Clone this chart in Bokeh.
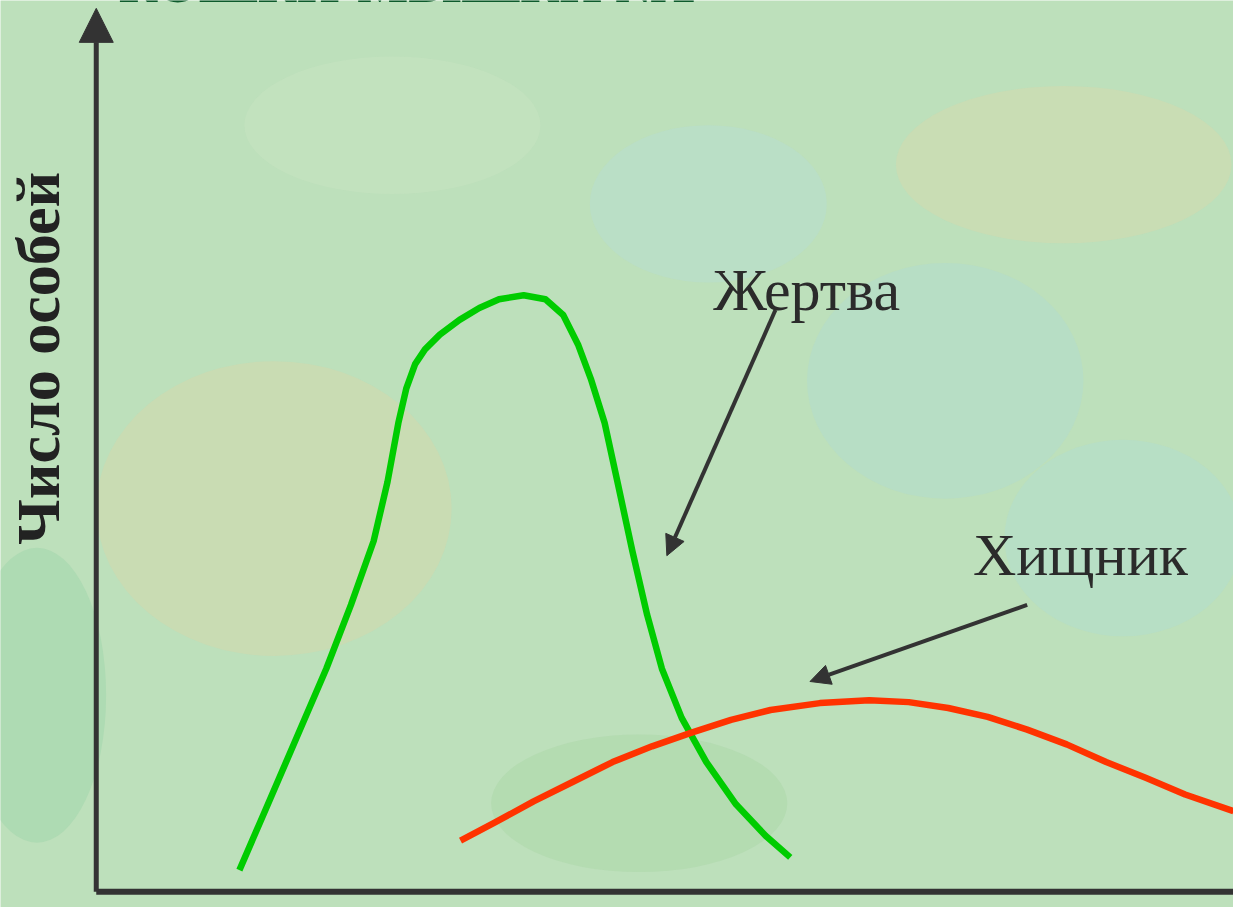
from bokeh.plotting import figure
from bokeh.models import Range1d, Arrow, NormalHead, Label
from bokeh.embed import file_html
from bokeh.resources import INLINE
import math

# ---- data (arbitrary units: time on x, number of individuals on y) ----
prey_t = [1.45, 1.73, 2.03, 2.33, 2.58, 2.81, 2.95, 3.06, 3.14, 3.23, 3.33, 3.48, 3.68,
          3.88, 4.08, 4.33, 4.55, 4.73, 4.88, 5.01, 5.15, 5.28, 5.43, 5.58, 5.73, 5.93,
          6.18, 6.48, 6.78, 7.03]
prey_n = [0.22, 0.87, 1.57, 2.27, 2.92, 3.57, 4.17, 4.77, 5.12, 5.37, 5.52, 5.67, 5.82,
          5.94, 6.03, 6.07, 6.03, 5.87, 5.57, 5.22, 4.77, 4.17, 3.47, 2.82, 2.27, 1.77,
          1.32, 0.89, 0.57, 0.35]
pred_t = [3.69, 4.03, 4.43, 4.83, 5.23, 5.63, 6.03, 6.43, 6.83, 7.33, 7.83, 8.23, 8.63,
          9.03, 9.43, 9.83, 10.23, 10.63, 11.03, 11.52]
pred_n = [0.52, 0.70, 0.92, 1.12, 1.32, 1.48, 1.62, 1.75, 1.85, 1.92, 1.95, 1.93, 1.87,
          1.78, 1.65, 1.50, 1.32, 1.16, 0.99, 0.82]

title_text = "КОШКИ-МЫШКИ №1"
y_label = "Число особей"
prey_label = "Жертва"
pred_label = "Хищник"

FONT = "Liberation Serif"
AX = "#333333"
BG = "#bde0bb"

p = figure(width=1233, height=907, output_backend="svg", toolbar_location=None,
           x_range=Range1d(-0.97, 11.52), y_range=Range1d(-0.16, 9.07),
           min_border=0, background_fill_color=BG, border_fill_color=BG)
p.axis.visible = False
p.grid.visible = False
p.outline_line_color = None

# soft texture-like colour patches of the background
p.ellipse(x=[1.8, 9.8, 8.6, 10.4, -0.6, 5.5, 3.0, 6.2], y=[3.9, 7.4, 5.2, 3.6, 2.0, 0.9, 7.8, 7.0],
          width=[3.6, 3.4, 2.8, 2.4, 1.4, 3.0, 3.0, 2.4], height=[3.0, 1.6, 2.4, 2.0, 3.0, 1.4, 1.4, 1.6],
          fill_color=["#d6d7ac", "#d6d9ae", "#b2dcd0", "#b2ddd0", "#9fd6ab", "#acd8a8", "#c8e4c2", "#b8ddd2"],
          fill_alpha=0.5, line_color=None)

# title (mostly cut off at the top, as in the original slide)
p.add_layout(Label(x=0.23, y=9.24, text=title_text, text_font=FONT,
                   text_font_style="bold", text_font_size="54px", text_color="#0d5a2c",
                   text_baseline="alphabetic"))

# axes with arrow
p.add_layout(Arrow(end=NormalHead(size=34, fill_color=AX, line_color=AX),
                   x_start=0, y_start=0, x_end=0, y_end=8.99,
                   line_color=AX, line_width=5))
p.line(x=[0, 11.6], y=[0, 0], line_color=AX, line_width=6)

# curves
p.line(prey_t, prey_n, line_color="#00cc00", line_width=6.5, line_join="round", line_cap="butt")
p.line(pred_t, pred_n, line_color="#ff3300", line_width=6.5, line_join="round", line_cap="butt")

# labels with pointers
p.add_layout(Arrow(end=NormalHead(size=20, fill_color=AX, line_color=AX),
                   x_start=6.88, y_start=5.92, x_end=5.78, y_end=3.42,
                   line_color=AX, line_width=4))
p.add_layout(Arrow(end=NormalHead(size=20, fill_color=AX, line_color=AX),
                   x_start=9.43, y_start=2.92, x_end=7.23, y_end=2.14,
                   line_color=AX, line_width=4))
p.add_layout(Label(x=6.25, y=6.12, text=prey_label, text_font=FONT,
                   text_font_size="60px", text_color="#2b2b2b", text_baseline="alphabetic"))
p.add_layout(Label(x=8.88, y=3.43, text=pred_label, text_font=FONT,
                   text_font_size="60px", text_color="#2b2b2b", text_baseline="alphabetic"))
p.add_layout(Label(x=-0.59, y=5.43, text=y_label, angle=math.pi / 2,
                   text_font=FONT, text_font_style="bold",
                   text_font_size="62px", text_color="#222222",
                   text_align="center", text_baseline="alphabetic"))

open("out.html", "w").write(file_html(p, INLINE))
